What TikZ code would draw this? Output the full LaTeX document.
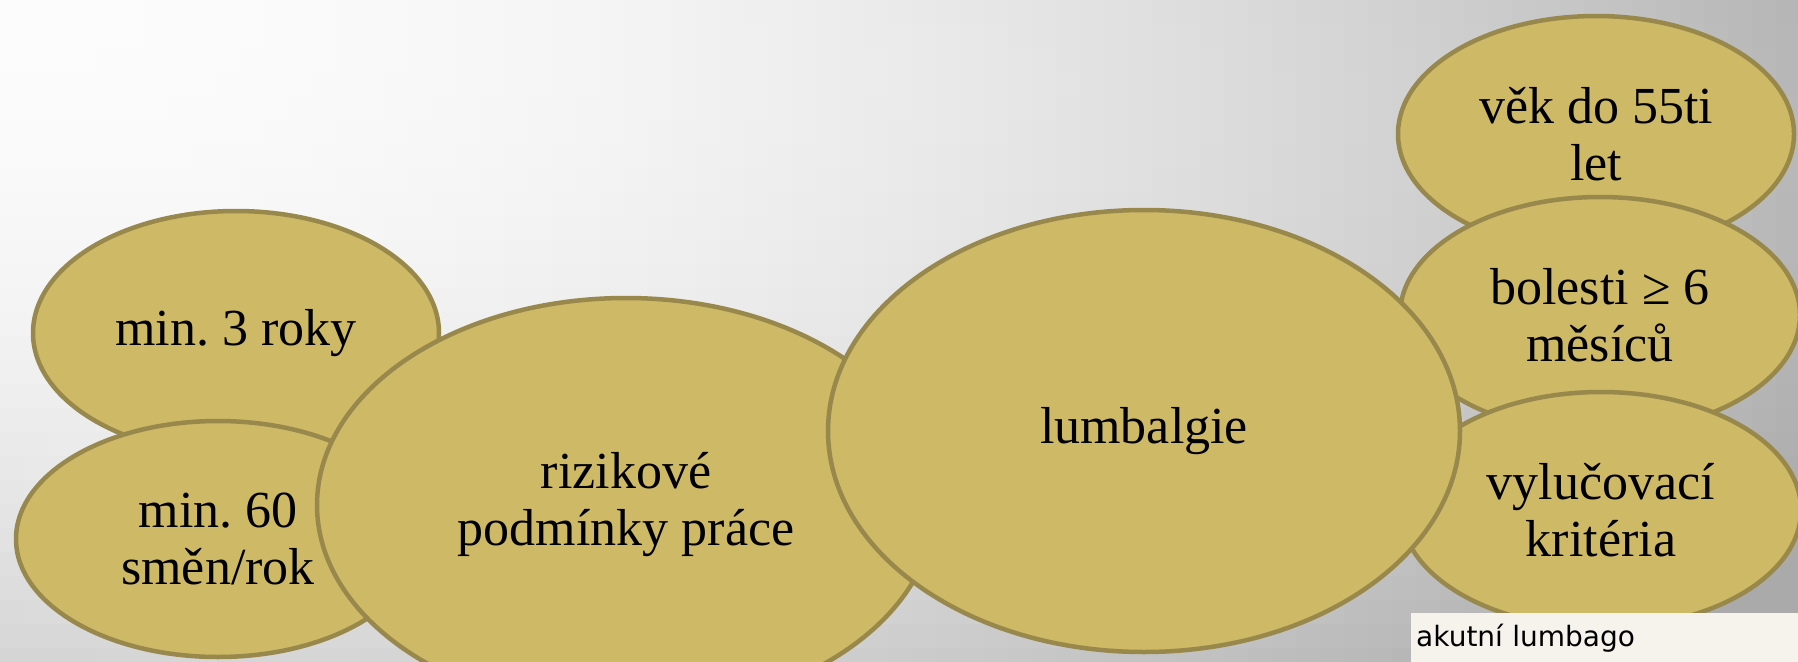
\documentclass[tikz,border=0pt]{standalone}
\usepackage{fontspec}
\setmainfont{Liberation Serif}
\newfontfamily\boxfont{DejaVu Sans}
\usetikzlibrary{shapes.geometric}
\definecolor{bubfill}{RGB}{206,185,103}
\definecolor{bubline}{RGB}{152,136,76}
\definecolor{boxfill}{RGB}{245,243,236}
\frenchspacing
\tikzset{
  bub/.style={ellipse, draw=bubline, fill=bubfill, line width=4.5pt, inner sep=0pt,
    align=center, font=\fontsize{52}{57}\selectfont},
  notebox/.style={anchor=north west, fill=boxfill, inner xsep=5pt, inner ysep=0pt,
    minimum height=50pt, text width=378pt, align=left,
    font=\boxfont\fontsize{28}{32}\selectfont}
}
\begin{document}
\begin{tikzpicture}[x=1pt,y=-1pt]
\useasboundingbox (0,0) rectangle (1798,661);
\clip (0,0) rectangle (1798,661);
% background gradient
\foreach \i in {0,...,74}{
  \foreach \j in {0,...,27}{
    \pgfmathsetmacro\u{(\i+0.5)*0.24}
    \pgfmathsetmacro\w{(\j+0.5)*0.24}
    \pgfmathsetmacro\v{max(170,min(252,252-0.22*\u*\u-0.9*\w*\w+0.15*\u*\w))/255}
    \definecolor{cellc}{gray}{\v}
    \fill[cellc] (\i*24,\j*24) rectangle ++(25,25);
  }
}
% bubbles
\node[bub, minimum width=406pt, minimum height=244pt] (m3) at (236,333) {min. 3 roky};
\node[bub, minimum width=404pt, minimum height=236pt] (m60) at (218,539) {min. 60\\směn/rok};
\node[bub, minimum width=618pt, minimum height=414pt] (riz) at (626,505) {rizikové\\podmínky práce};
\node[bub, minimum width=396pt, minimum height=236pt] (vek) at (1596,134) {věk do 55ti\\let};
\node[bub, minimum width=400pt, minimum height=236pt] (bol) at (1600,315) {bolesti ≥ 6\\měsíců};
\node[bub, minimum width=400pt, minimum height=236pt] (vyl) at (1601,510) {vylučovací\\kritéria};
\node[bub, minimum width=632pt, minimum height=442pt] (lum) at (1144,431) {lumbalgie};
% note box
\node[notebox] (ak) at (1411,613) {akutní lumbago};
\end{tikzpicture}
\end{document}
